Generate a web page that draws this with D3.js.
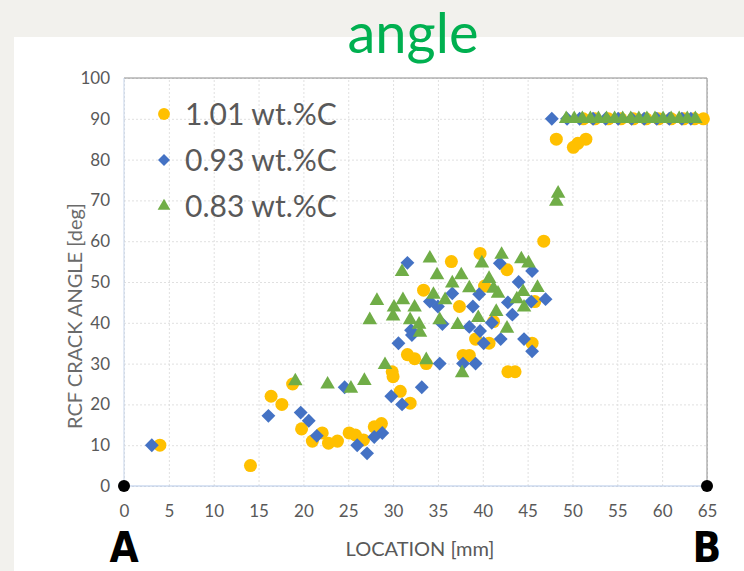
<!DOCTYPE html>
<html>
<head>
<meta charset="utf-8">
<script src="https://cdn.jsdelivr.net/npm/d3@7"></script>
<style>
  body { margin: 0; background: #f2f1ed; }
  text { font-family: Lato, "Open Sans", sans-serif; }
</style>
</head>
<body>
<div id="chart-area"></div>
<script>
// series: [location mm, crack angle deg]
var c101 = [[4,10],[14.1,5],[16.4,22],[17.6,20],[18.8,25],[19.8,14],[21,11],[22.1,13],[22.8,10.5],[23.8,11],
  [25.1,13],[25.8,12.5],[26.7,11.3],[27.9,14.5],[28.7,15.3],[29.9,28],[30,26.8],[30.8,23.2],[31.9,20.3],
  [31.6,32.2],[32.4,31.2],[33.4,48],[33.7,30],[36.5,55],[37.4,44],[37.8,32],[38.5,32],[39.2,36],[39.7,57],
  [40.2,49],[40.7,35],[41.2,40.3],[42.7,53],[42.8,28],[43.6,28],[45.5,35],[45.8,45.2],[46.8,60],
  [48.2,85],[50.1,83],[50.6,84],[51.5,85],
  [51.2,90],[52.5,90],[54,90],[55.4,90],[56.8,90],[58.2,90],[59.6,90],[61,90],[62.4,90],[63.6,90],[64.6,90]];

var c093 = [[3.1,10],[16.1,17.2],[19.7,18],[20.6,16],[21.5,12.3],[24.6,24.2],[26,10],[27.1,8],[27.9,12],
  [28.8,13],[29.8,22],[31,20],[33.2,24.2],[30.6,35],[31.6,54.7],[32,38.2],[32.1,37],[34.1,45.2],[35,44],
  [35.2,30],[35.5,39.7],[36.6,47.2],[37.8,30],[38.5,39],[38.9,44],[39.2,30],[39.6,47],[39.7,38],[40.1,35],
  [41,40],[41.9,54.6],[42,36],[42.8,45],[43.3,42],[44,50],[44.6,36],[45.4,45.2],[45.5,52.7],[45.5,33],
  [47,45.8],[47.7,90],
  [49.4,90],[50.8,90],[52.3,90],[53.7,90],[55.1,90],[56.6,90],[58,90],[59.4,90],[60.8,90],[62.2,90],[63.2,90]];

var c083 = [[19.1,25.7],[22.7,24.9],[25.3,23.9],[26.8,25.8],[27.4,40.7],[28.2,45.4],[29.1,29.7],[30,41.6],
  [30.1,43.8],[31,52.5],[31.1,45.6],[31.9,40.7],[32.4,43.8],[32.9,39.6],[33,37.6],[33.7,30.9],[34.1,55.8],
  [34.5,46.9],[34.9,51.7],[35.2,40.7],[35.8,45.6],[36.6,49.7],[37.2,39.5],[37.6,51.7],[37.7,27.7],[38.5,48.5],
  [39.5,41.2],[39.9,54.6],[40.7,50.8],[41.2,48.4],[41.5,42.7],[41.7,47.2],[42.1,56.7],[42.7,38.6],[43.8,45.8],
  [44.3,55.6],[44.5,47.6],[44.6,43.8],[45.1,54.6],[46.1,48.6],[48.2,69.7],[48.4,71.7],
  [49.3,90],[50.2,90],[51.1,90],[52,90],[52.9,90],[53.8,90],[54.7,90],[55.6,90],[56.5,90],[57.4,90],
  [58.3,90],[59.2,90],[60.1,90],[61,90],[61.9,90],[62.8,90],[63.7,90]];

var seriesNames = ["1.01 wt.%C", "0.93 wt.%C", "0.83 wt.%C"];
var xTicks = d3.range(0, 66, 5);
var yTicks = d3.range(0, 101, 10);

var W = 744, H = 571;
var plotLeft = 124, plotRight = 707, plotTop = 78, plotBottom = 486;

var svg = d3.select("#chart-area").append("svg")
    .attr("width", W)
    .attr("height", H);

// slide background + white panel
svg.append("rect").attr("width", W).attr("height", H).attr("fill", "#f2f1ed");
svg.append("rect").attr("x", 14).attr("y", 37).attr("width", W - 14).attr("height", H - 37).attr("fill", "#ffffff");

svg.append("text")
    .attr("x", 413)
    .attr("y", 53)
    .attr("text-anchor", "middle")
    .attr("font-size", "56px")
    .attr("fill", "#00b050")
    .text("angle");

var x = d3.scaleLinear().domain([0, 65]).range([plotLeft, plotRight]);
var y = d3.scaleLinear().domain([0, 100]).range([plotBottom, plotTop]);

// gridlines
svg.append("g")
    .attr("transform", "translate(0," + plotBottom + ")")
    .call(d3.axisBottom(x).tickValues(xTicks).tickSize(-(plotBottom - plotTop)).tickFormat(""))
    .call(g => g.select(".domain").remove())
    .selectAll("line")
    .attr("stroke", "#e0e0e0")
    .attr("stroke-dasharray", "2,2");

svg.append("g")
    .attr("transform", "translate(" + plotLeft + ",0)")
    .call(d3.axisLeft(y).tickValues(yTicks).tickSize(-(plotRight - plotLeft)).tickFormat(""))
    .call(g => g.select(".domain").remove())
    .selectAll("line")
    .attr("stroke", "#e0e0e0")
    .attr("stroke-dasharray", "2,2");

// frame
svg.append("line").attr("x1", plotLeft).attr("x2", plotRight).attr("y1", plotTop).attr("y2", plotTop)
    .attr("stroke", "#8c8c8c").attr("stroke-width", 1);
svg.append("line").attr("x1", plotRight).attr("x2", plotRight).attr("y1", plotTop).attr("y2", plotBottom)
    .attr("stroke", "#8c8c8c").attr("stroke-width", 1);
svg.append("line").attr("x1", plotLeft).attr("x2", plotLeft).attr("y1", plotTop).attr("y2", plotBottom)
    .attr("stroke", "#c5d3e8").attr("stroke-width", 1);
svg.append("line").attr("x1", plotLeft).attr("x2", plotRight).attr("y1", plotBottom).attr("y2", plotBottom)
    .attr("stroke", "#b4c7e7").attr("stroke-width", 1.2);

// tick labels
var xAxis = svg.append("g")
    .attr("transform", "translate(0," + plotBottom + ")")
    .call(d3.axisBottom(x).tickValues(xTicks).tickSize(0).tickPadding(19));
xAxis.select(".domain").remove();
xAxis.selectAll("text").attr("font-size", "17px").attr("fill", "#595959")
    .style("font-family", "Lato, sans-serif");

var yAxis = svg.append("g")
    .attr("transform", "translate(" + plotLeft + ",0)")
    .call(d3.axisLeft(y).tickValues(yTicks).tickSize(0).tickPadding(14));
yAxis.select(".domain").remove();
yAxis.selectAll("text").attr("font-size", "17px").attr("fill", "#595959")
    .style("font-family", "Lato, sans-serif");

// axis titles
svg.append("text")
    .attr("transform", "translate(82,316) rotate(-90)")
    .attr("text-anchor", "middle")
    .attr("font-size", "20px")
    .attr("fill", "#6b6b6b")
    .text("RCF CRACK ANGLE [deg]");

svg.append("text")
    .attr("x", 420)
    .attr("y", 556)
    .attr("text-anchor", "middle")
    .attr("font-size", "20px")
    .attr("fill", "#595959")
    .text("LOCATION [mm]");

// markers
var circle = d3.symbol().type(d3.symbolCircle).size(133);
var diamond = d3.symbol().type(d3.symbolSquare).size(96);
var triangle = d3.symbol().type(d3.symbolTriangle).size(92);

svg.append("g").selectAll("path")
    .data(c101).enter().append("path")
    .attr("d", circle)
    .attr("transform", (d) => "translate(" + x(d[0]) + "," + y(d[1]) + ")")
    .attr("fill", "#ffc000");

svg.append("g").selectAll("path")
    .data(c093).enter().append("path")
    .attr("d", diamond)
    .attr("transform", (d) => "translate(" + x(d[0]) + "," + y(d[1]) + ") rotate(45)")
    .attr("fill", "#4472c4");

svg.append("g").selectAll("path")
    .data(c083).enter().append("path")
    .attr("d", triangle)
    .attr("transform", (d) => "translate(" + x(d[0]) + "," + y(d[1]) + ")")
    .attr("fill", "#70ad47");

// legend
var legendShapes = [
    { p: d3.symbol().type(d3.symbolCircle).size(110)(), rot: 0, c: "#ffc000" },
    { p: d3.symbol().type(d3.symbolSquare).size(72)(), rot: 45, c: "#4472c4" },
    { p: d3.symbol().type(d3.symbolTriangle).size(70)(), rot: 0, c: "#70ad47" }
];
var legend = svg.append("g");
seriesNames.forEach((name, i) => {
    var ly = 114 + i * 46;
    legend.append("path")
        .attr("d", legendShapes[i].p)
        .attr("transform", "translate(164," + ly + ") rotate(" + legendShapes[i].rot + ")")
        .attr("fill", legendShapes[i].c);
    legend.append("text")
        .attr("x", 185)
        .attr("y", ly + 11)
        .attr("font-size", "30px")
        .attr("fill", "#595959")
        .text(name);
});

// end points A and B
svg.selectAll("circle.end")
    .data([0, 65]).enter().append("circle")
    .attr("class", "end")
    .attr("cx", (d) => x(d))
    .attr("cy", y(0))
    .attr("r", 6)
    .attr("fill", "#000");

svg.selectAll("text.end")
    .data([["A", 0], ["B", 65]]).enter().append("text")
    .attr("class", "end")
    .attr("x", (d) => x(d[1]))
    .attr("y", 562)
    .attr("text-anchor", "middle")
    .attr("font-size", "42px")
    .attr("font-weight", "bold")
    .attr("fill", "#000")
    .style("font-family", "'Liberation Sans Narrow', 'DejaVu Sans Condensed', sans-serif")
    .text((d) => d[0]);
</script>
</body>
</html>
